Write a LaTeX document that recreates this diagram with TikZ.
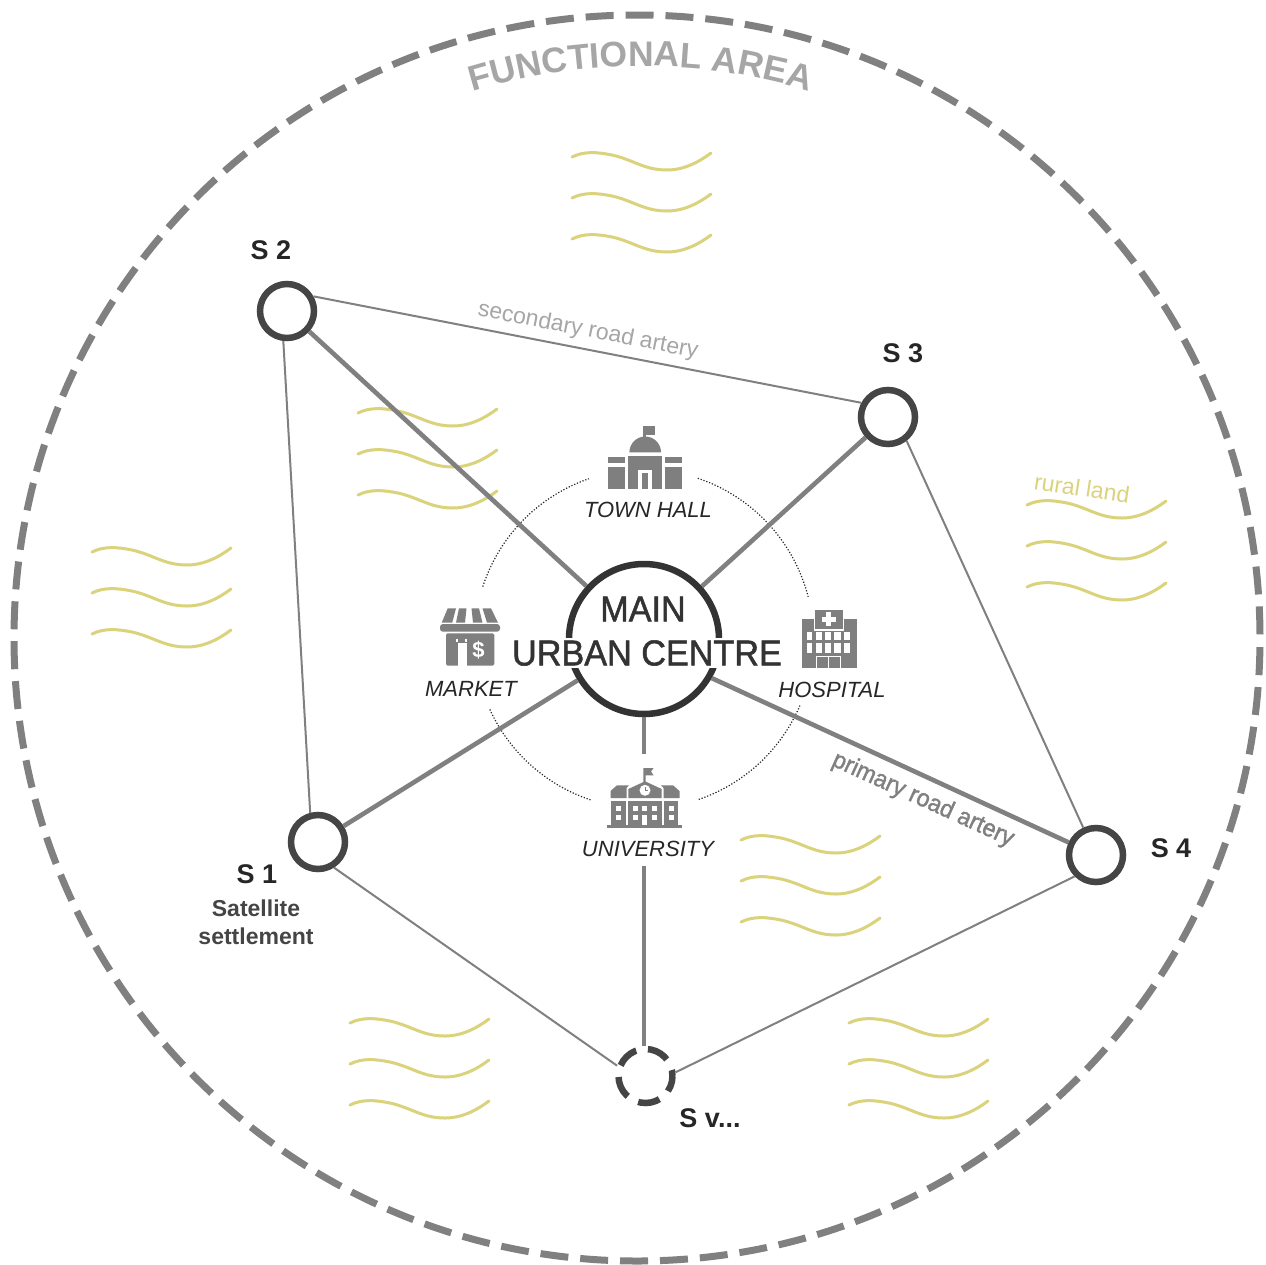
\documentclass[tikz,border=0pt]{standalone}
\usepackage{fontspec}
\setmainfont{Liberation Sans}
\newfontfamily\medfont[FakeBold=1.4,FakeStretch=0.95]{Liberation Sans}
\usetikzlibrary{decorations.text}
\definecolor{icongray}{HTML}{7F7F7F}
\definecolor{roadgray}{HTML}{808080}
\definecolor{ringgray}{HTML}{808080}
\definecolor{titlegray}{HTML}{A6A6A6}
\definecolor{wavey}{HTML}{DBD27C}
\definecolor{nodedark}{HTML}{454545}
\definecolor{centredark}{HTML}{333333}
\newcommand{\fsz}[1]{\fontsize{#1}{#1}\selectfont}
\tikzset{
  settle/.style={circle,draw=nodedark,fill=white,line width=6.5pt,minimum size=54pt,inner sep=0pt},
  svsettle/.style={settle,dash pattern=on 22pt off 11.9pt,dash phase=16pt},
  centre/.style={circle,draw=centredark,fill=white,line width=6.5pt,minimum size=150pt,inner sep=0pt},
  primary/.style={draw=roadgray,line width=4.6pt},
  secondary/.style={draw=roadgray,line width=2pt},
  slabel/.style={font=\fsz{27}\bfseries,text=black!85,inner sep=0pt},
  satlabel/.style={font=\fsz{23}\bfseries,text=nodedark,inner sep=0pt},
  fnlabel/.style={font=\fsz{22}\itshape,text=black!85,inner sep=0pt},
  centretext/.style={font=\fsz{36}\medfont,text=centredark,inner sep=0pt},
  orbit/.style={draw=black!85,line width=1.2pt,dash pattern=on 1.2pt off 1.8pt},
  wavepath/.style={draw=wavey,line width=3pt,line cap=round},
  wavegroup/.pic={
    \foreach \dy in {0,41,82}{
      \draw[wavepath] (0,\dy) .. controls (12,\dy-6) and (25,\dy-5) .. (40,\dy-2)
        .. controls (62,\dy+3) and (72,\dy+13) .. (95,\dy+13)
        .. controls (112,\dy+13) and (127,\dy+5) .. (139,\dy-4);
    }
  }
}
\begin{document}
\begin{tikzpicture}[x=1pt,y=-1pt]
\useasboundingbox (0,0) rectangle (1266,1264);
\fill[white] (0,0) rectangle (1266,1264);
% outer ring
\draw[ringgray,line width=7pt,dash pattern=on 28pt off 11.94pt,dash phase=36.3pt] (637,638) circle[radius=623pt];
% curved title
\path[decorate,decoration={text along path,text align=center,
  text={|\fsz{35.5}\bfseries\color{titlegray}|FUNCTIONAL AREA}}]
  plot[domain=235:305,samples=50] ({641+572*cos(\x)},{638+572*sin(\x)});
% rural land waves
\pic at (572,157) {wavegroup};
\pic at (92,552) {wavegroup};
\pic at (358,413) {wavegroup};
\pic at (1027,505) {wavegroup};
\pic at (741,840) {wavegroup};
\pic at (350,1023) {wavegroup};
\pic at (849,1023) {wavegroup};
% orbit arcs
\draw[orbit] plot[domain=198:251,samples=40] ({644+169.5*cos(\x)},{639+169.5*sin(\x)});
\draw[orbit] plot[domain=288.5:345.6,samples=40] ({644+169.5*cos(\x)},{639+169.5*sin(\x)});
\draw[orbit] plot[domain=23.1:71.2,samples=40] ({644+169.5*cos(\x)},{639+169.5*sin(\x)});
\draw[orbit] plot[domain=108.4:156,samples=40] ({644+169.5*cos(\x)},{639+169.5*sin(\x)});
% nodes
\node[centre] (c) at (644,639) {};
\node[settle] (s1) at (318,842) {};
\node[settle] (s2) at (287,311) {};
\node[settle] (s3) at (888,417) {};
\node[settle] (s4) at (1096,855) {};
\node[svsettle] (sv) at (645.5,1076) {};
\coordinate (unitop) at (644,754);
\coordinate (unibot) at (644,866);
% roads
\draw[primary] (s2) -- (c);
\draw[primary] (s3) -- (c);
\draw[primary] (s1) -- (c);
\draw[primary] (s4) -- (c.-30.6);
\draw[primary] (c) -- (unitop);
\draw[primary] (unibot) -- (unibot |- sv.north);
\draw[secondary] (s1.105) -- (s2.-97);
\draw[secondary] (s2.29) -- (s3.152);
\draw[secondary] (s3.-52) -- (s4.115);
\draw[secondary] (s4.-135) -- (sv.7);
\draw[secondary] (s1.-58) -- (sv.160);
% centre text
\node[centretext] (main) at (643,609) {MAIN};
\node[centretext,fill=white,inner xsep=1pt,inner ysep=2pt] (urban) at (647,653) {URBAN CENTRE};
% labels
\node[slabel] (l1) at (257,874) {S 1};
\node[slabel] (l2) at (271,250) {S 2};
\node[slabel] (l3) at (903,353) {S 3};
\node[slabel] (l4) at (1171,848) {S 4};
\node[slabel] (lv) at (710,1118) {S v...};
\node[satlabel] (sat1) at (256,908) {Satellite};
\node[satlabel] (sat2) at (256,936) {settlement};
\node[fnlabel] (townhall) at (648,510) {TOWN HALL};
\node[fnlabel] (market) at (471,689) {MARKET};
\node[fnlabel] (hospital) at (832,690) {HOSPITAL};
\node[fnlabel] (university) at (648,849) {UNIVERSITY};
\node[font=\fsz{23},text=titlegray,rotate=-11,inner sep=0pt] (secroad) at (588,331) {secondary road artery};
\node[font=\fsz{24.5}\medfont,text=roadgray,rotate=-24.4,inner sep=0pt] (primroad) at (923,800) {primary road artery};
\node[font=\fsz{23},text=wavey,rotate=-8.5,inner sep=0pt] (rural) at (1082,488) {rural land};
% town hall icon
\fill[icongray] (643.3,426) rectangle (655,435);
\fill[icongray] (643.3,426) rectangle (646,444);
\fill[icongray] (629.4,452.3) arc[start angle=180,end angle=0,radius=15.8pt] -- cycle;
\fill[white] (626,454.2) rectangle (664,455.7);
\fill[icongray] (628.3,455.7) rectangle (661.7,489.3);
\fill[white] (637.7,470) rectangle (652.3,489.3);
\fill[icongray] (641.7,473.3) rectangle (648.3,489.3);
\fill[icongray] (608.3,456.7) rectangle (625,463.3);
\fill[icongray] (608.3,466.7) rectangle (625,489.3);
\fill[icongray] (665,456.7) rectangle (681.7,463.3);
\fill[icongray] (665,466.7) rectangle (681.7,489.3);
% university icon
\fill[icongray] (643.3,768) -- (653.6,768) -- (651,771.5) -- (653.6,775.3) -- (645.7,775.3) -- (645.7,786) -- (643.3,786) -- cycle;
\fill[icongray] (645,781.3) -- (661.7,789) -- (661.7,798) -- (628.3,798) -- (628.3,789) -- cycle;
\fill[white] (645,790.3) circle[radius=5.5pt];
\draw[icongray,line width=.8pt] (645,787) -- (645,790.5) -- (648,790.5);
\fill[icongray] (610.5,798) -- (610.5,791) -- (617,785.3) -- (629,785.3) -- (626.5,788) -- (626.5,798) -- cycle;
\fill[icongray] (679.5,798) -- (679.5,791) -- (673,785.3) -- (661,785.3) -- (663.5,788) -- (663.5,798) -- cycle;
\fill[icongray] (611,801.3) rectangle (678.3,825.3);
\fill[icongray] (607.3,825.3) rectangle (681.7,827.5);
\fill[white] (626,801.3) rectangle (628.3,825.3);
\fill[white] (661.7,801.3) rectangle (663.6,825.3);
\foreach \wx in {616,669.3}{
  \fill[white] (\wx,806) rectangle (\wx+4.8,811.3);
  \fill[white] (\wx,814.7) rectangle (\wx+4.8,820);
}
\foreach \wx in {633.3,642.3,651.7}{
  \fill[white] (\wx,806) rectangle (\wx+5,811.3);
}
\fill[white] (633.3,814.7) rectangle (638.3,820);
\fill[white] (651.7,814.7) rectangle (656.7,820);
\fill[white] (642.3,814.7) rectangle (647.3,825.3);
% market icon
\fill[icongray] (447.7,608.3) -- (456,608.3) -- (452.2,622.7) -- (441.7,622.7) -- cycle;
\fill[icongray] (459,608.3) -- (466.5,608.3) -- (465,622.7) -- (456,622.7) -- cycle;
\fill[icongray] (471.5,608.3) -- (479,608.3) -- (482.5,622.7) -- (473,622.7) -- cycle;
\fill[icongray] (482.5,608.3) -- (491,608.3) -- (498,622.7) -- (487,622.7) -- cycle;
\fill[icongray,rounded corners=3pt] (440,624) rectangle (500,631.7);
\fill[icongray,rounded corners=1.5pt] (446,633.3) rectangle (494.3,665.5);
\fill[white] (457.7,643.3) rectangle (466.7,665.5);
\fill[white] (455.7,639.3) rectangle (458.3,641.7);
\fill[white] (465,639.3) rectangle (467.3,641.7);
\node[font=\fsz{22}\bfseries,text=white,inner sep=0pt] (dollar) at (478.5,650) {\$};
% hospital icon
\fill[icongray] (801.7,619.3) rectangle (856.7,668);
\fill[white] (813.7,608.7) rectangle (844,630.5);
\fill[icongray] (815,610) rectangle (842.7,629);
\fill[white] (826.4,612.3) rectangle (831,626.3);
\fill[white] (821.7,617) rectangle (835.7,621.6);
\foreach \wx/\ww in {806.7/5.6,816/6.3,825/6,834/6.7,844.3/5.7}{
  \fill[white] (\wx,631.5) rectangle (\wx+\ww,639.5);
  \fill[white] (\wx,643.3) rectangle (\wx+\ww,652.7);
}
\draw[white,line width=1pt] (816.5,668) -- (816.5,656) -- (840.5,656) -- (840.5,668);
\draw[white,line width=1pt] (828.5,656) -- (828.5,668);
\end{tikzpicture}
\end{document}
